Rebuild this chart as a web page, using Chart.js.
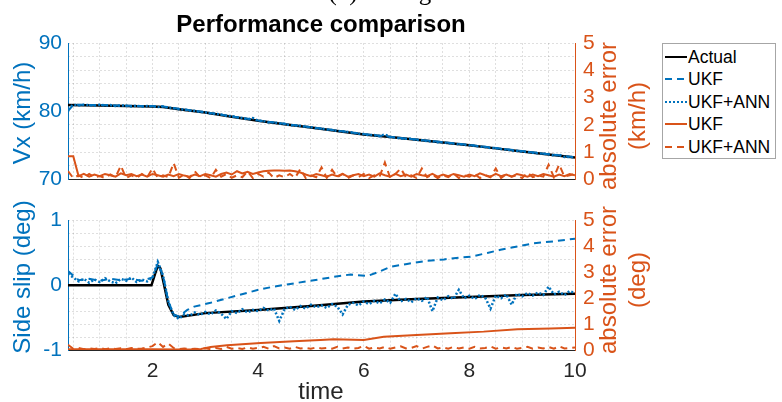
<!DOCTYPE html>
<html><head><meta charset="utf-8">
<script src="https://cdn.jsdelivr.net/npm/chart.js@4.4.1/dist/chart.umd.min.js"></script>
<style>
body{margin:0;background:#fff;}
#wrap{position:relative;width:782px;height:402px;overflow:hidden;font-family:"Liberation Sans",Arial,sans-serif;color:#000;}
canvas{position:absolute;left:0;}
.txt{position:absolute;white-space:nowrap;}
.rot{position:absolute;white-space:nowrap;transform:translate(-50%,-50%) rotate(-90deg);text-align:center;}
#legend{position:absolute;left:662px;top:43px;width:112px;height:114px;border:1px solid #a6a6a6;background:#fff;}
.lrow{position:absolute;left:0;height:22px;width:112px;}
.lrow svg{position:absolute;left:2px;top:0;}
.lrow span{position:absolute;left:25px;top:0;line-height:22px;font-size:17.5px;}
</style></head><body>
<div id="wrap">
<canvas id="cTop" width="782" height="200" style="top:0"></canvas>
<canvas id="cBot" width="782" height="202" style="top:200px"></canvas>
<div class="txt" style="left:383px;top:-21px;transform:translateX(-50%);font-family:'Liberation Serif','Times New Roman',serif;font-size:25px;line-height:25px;">(d) 10 deg.</div>
<div class="txt" style="left:321px;top:12px;transform:translateX(-50%);font-weight:bold;font-size:24px;line-height:24px;">Performance comparison</div>
<div class="rot" style="left:22px;top:113px;font-size:24px;color:#0072BD;">Vx (km/h)</div>
<div class="rot" style="left:22px;top:277px;font-size:24px;color:#0072BD;">Side slip (deg)</div>
<div class="rot" style="left:622px;top:116px;font-size:24px;line-height:29px;color:#D95319;">absolute error<br>(km/h)</div>
<div class="rot" style="left:622px;top:280px;font-size:24px;line-height:29px;color:#D95319;">absolute error<br>(deg)</div>
<div class="txt" style="left:321px;top:379px;transform:translateX(-50%);font-size:24px;line-height:24px;color:#262626;">time</div>
<div id="legend">
 <div class="lrow" style="top:2px"><svg width="22" height="22"><line x1="0" y1="11" x2="22" y2="11" stroke="#000" stroke-width="2"/></svg><span>Actual</span></div>
 <div class="lrow" style="top:24px"><svg width="22" height="22"><line x1="0" y1="11" x2="22" y2="11" stroke="#0072BD" stroke-width="2" stroke-dasharray="7 5"/></svg><span>UKF</span></div>
 <div class="lrow" style="top:47px"><svg width="22" height="22"><line x1="0" y1="11" x2="22" y2="11" stroke="#0072BD" stroke-width="2" stroke-dasharray="2 2"/></svg><span>UKF+ANN</span></div>
 <div class="lrow" style="top:69px"><svg width="22" height="22"><line x1="0" y1="11" x2="22" y2="11" stroke="#D95319" stroke-width="2"/></svg><span>UKF</span></div>
 <div class="lrow" style="top:92px"><svg width="22" height="22"><line x1="0" y1="11" x2="22" y2="11" stroke="#D95319" stroke-width="2" stroke-dasharray="7 5"/></svg><span>UKF+ANN</span></div>
</div>
</div>
<script>
// ---------- data ----------
const xMin = 0.4, xMax = 10;
const xGrid = [0.5,1,1.5,2,2.5,3,3.5,4,4.5,5,5.5,6,6.5,7,7.5,8,8.5,9,9.5,10];
const xTickLabels = [2,4,6,8,10];
const vxTicks = [70,80,90];
const slipTicks = [-1,0,1];
const errTickLabels = [0,1,2,3,4,5];

// shared time base for the noisy series
const t = [0.4,0.5,0.6,0.7,0.8,0.9,
 1.0,1.1,1.2,1.3,1.4,1.5,1.6,1.7,1.8,1.9,
 2.0,2.1,2.2,2.3,2.4,2.5,2.6,2.7,2.8,2.9,
 3.0,3.1,3.2,3.3,3.4,3.5,3.6,3.7,3.8,3.9,
 4.0,4.1,4.2,4.3,4.4,4.5,4.6,4.7,4.8,4.9,
 5.0,5.1,5.2,5.3,5.4,5.5,5.6,5.7,5.8,5.9,
 6.0,6.1,6.2,6.3,6.4,6.5,6.6,6.7,6.8,6.9,
 7.0,7.1,7.2,7.3,7.4,7.5,7.6,7.7,7.8,7.9,
 8.0,8.1,8.2,8.3,8.4,8.5,8.6,8.7,8.8,8.9,
 9.0,9.1,9.2,9.3,9.4,9.5,9.6,9.7,9.8,9.9,
 10.0];

// top: Vx
const tVxActual = [0.4,1.0,1.5,2.0,2.2,2.5,3,3.5,4,4.5,5,5.5,6,6.5,7,7.5,8,8.5,9,9.5,10];
const vxActual  = [80.9,80.85,80.75,80.7,80.6,80.3,79.8,79.2,78.6,78.1,77.6,77.1,76.6,76.2,75.8,75.4,75.0,74.55,74.1,73.65,73.2];
const tVxUkf = [0.4,0.5,1.0,1.5,2.0,2.2,2.5,3,3.5,4,4.5,5,5.5,6,6.5,7,7.5,8,8.5,9,9.5,10];
const vxUkf  = [80.0,80.95,80.9,80.8,80.75,80.7,80.35,79.85,79.25,78.65,78.15,77.65,77.15,76.65,76.25,75.85,75.45,75.05,74.6,74.15,73.7,73.25];
const vxUkfAnn = [80.3,80.95,80.85,80.95,80.9,80.8,
 80.95,80.85,80.9,80.75,80.85,80.8,80.7,80.8,80.65,80.75,
 80.7,80.6,80.7,80.5,80.45,80.3,80.25,80.1,80.05,79.9,
 79.85,79.65,79.6,79.5,79.3,79.3,79.1,79.0,78.8,79.0,
 78.6,78.55,78.35,78.4,78.2,78.15,77.95,77.9,77.85,77.7,
 77.65,77.5,77.45,77.3,77.25,77.1,77.05,76.95,76.85,76.7,
 76.65,76.5,76.5,76.35,76.6,76.2,76.15,76.0,75.95,75.95,
 75.8,75.75,75.6,75.6,75.45,75.45,75.3,75.25,75.15,75.1,
 75.0,74.95,74.8,74.75,74.6,74.6,74.45,74.4,74.25,74.2,
 74.1,74.05,73.9,73.85,73.75,73.7,73.5,73.6,73.3,73.3,
 73.2];
const vxErrUkf = [0.85,0.85,0.12,0.2,0.1,0.18,
 0.12,0.2,0.15,0.1,0.22,0.15,0.2,0.12,0.18,0.1,
 0.2,0.15,0.1,0.18,0.12,0.2,0.14,0.1,0.18,0.12,
 0.2,0.15,0.1,0.2,0.25,0.18,0.3,0.22,0.28,0.2,
 0.25,0.3,0.32,0.33,0.33,0.32,0.33,0.3,0.25,0.18,
 0.12,0.2,0.15,0.1,0.18,0.12,0.2,0.1,0.15,0.2,
 0.12,0.18,0.1,0.22,0.15,0.1,0.2,0.12,0.18,0.1,
 0.2,0.15,0.12,0.2,0.1,0.18,0.12,0.2,0.15,0.1,
 0.18,0.12,0.22,0.15,0.1,0.2,0.12,0.18,0.1,0.2,
 0.15,0.1,0.18,0.12,0.2,0.15,0.1,0.18,0.12,0.2,
 0.15];
const vxErrUkfAnn = [0.3,0.05,0.15,0.05,0.2,0.08,
 0.12,0.05,0.18,0.08,0.5,0.05,0.15,0.06,0.2,0.08,
 0.4,0.05,0.15,0.08,0.6,0.06,0.18,0.05,0.3,0.08,
 0.15,0.05,0.35,0.1,0.2,0.06,0.15,0.08,0.3,0.05,
 0.2,0.1,0.25,0.05,0.15,0.08,0.2,0.06,0.38,0.05,
 0.15,0.08,0.44,0.06,0.35,0.08,0.2,0.05,0.15,0.08,
 0.2,0.05,0.15,0.1,0.62,0.06,0.2,0.4,0.08,0.15,
 0.05,0.4,0.08,0.18,0.05,0.15,0.08,0.22,0.05,0.15,
 0.1,0.2,0.05,0.15,0.08,0.4,0.05,0.2,0.1,0.15,
 0.05,0.25,0.08,0.15,0.1,0.54,0.08,0.55,0.1,0.15,
 0.2];

// bottom: side slip
const tSlipActual = [0.4,1.98,2.05,2.1,2.15,2.2,2.3,2.4,2.5,2.6,3,4,5,6,7,8,9,10];
const slipActual  = [0,0,0.18,0.3,0.26,0.08,-0.3,-0.46,-0.49,-0.48,-0.43,-0.38,-0.32,-0.25,-0.21,-0.18,-0.15,-0.13];
const tSlipUkf = [0.4,0.6,0.8,1.0,1.2,1.4,1.6,1.8,2.0,2.1,2.2,2.3,2.4,2.5,2.66,2.79,3.1,3.41,3.73,4.05,4.3,4.68,5.12,5.43,5.75,6.07,6.26,6.51,6.82,7.2,7.52,7.83,8.02,8.34,8.59,8.91,9.22,9.6,10.0];
const slipUkf  = [0.22,0.08,0.1,0.07,0.1,0.08,0.1,0.07,0.12,0.33,0.15,-0.25,-0.45,-0.48,-0.38,-0.33,-0.27,-0.2,-0.13,-0.06,-0.02,0.03,0.086,0.13,0.167,0.143,0.2,0.286,0.33,0.38,0.40,0.43,0.44,0.5,0.55,0.60,0.65,0.68,0.72];
const slipUkfAnn = [0.18,0.12,0.06,0.1,0.04,0.09,
 0.05,0.11,0.06,0.03,0.1,0.07,0.12,0.05,0.09,0.06,
 0.12,0.36,0.15,-0.25,-0.46,-0.52,-0.45,-0.47,-0.42,-0.46,
 -0.41,-0.45,-0.39,-0.44,-0.52,-0.4,-0.43,-0.37,-0.42,-0.38,
 -0.4,-0.35,-0.39,-0.36,-0.55,-0.37,-0.33,-0.38,-0.32,-0.36,
 -0.3,-0.34,-0.31,-0.35,-0.29,-0.33,-0.45,-0.3,-0.27,-0.31,
 -0.25,-0.29,-0.24,-0.28,-0.22,-0.27,-0.13,-0.25,-0.21,-0.26,
 -0.2,-0.24,-0.18,-0.4,-0.19,-0.23,-0.17,-0.21,-0.07,-0.2,
 -0.16,-0.21,-0.15,-0.19,-0.36,-0.16,-0.2,-0.14,-0.3,-0.13,
 -0.17,-0.12,-0.16,-0.11,-0.15,-0.02,-0.14,-0.1,-0.15,-0.09,
 -0.12];
const tSlipErrUkf = [0.4,1,2,2.5,2.8,2.92,3.1,3.41,4.05,4.68,5.18,5.43,6.0,6.38,7.0,7.64,8.27,8.91,9.54,10.0];
const slipErrUkf  = [0.03,0.03,0.03,0.02,0.02,0.04,0.12,0.18,0.27,0.34,0.39,0.42,0.39,0.51,0.58,0.65,0.71,0.80,0.83,0.86];
const slipErrUkfAnn = [0.2,0.05,0.08,0.03,0.06,0.04,
 0.08,0.03,0.06,0.04,0.07,0.03,0.08,0.04,0.06,0.1,
 0.15,0.3,0.12,0.25,0.08,0.04,0.06,0.03,0.05,0.04,
 0.07,0.03,0.08,0.04,0.12,0.05,0.08,0.04,0.1,0.05,
 0.08,0.12,0.05,0.15,0.06,0.1,0.05,0.12,0.06,0.08,
 0.05,0.1,0.06,0.08,0.05,0.12,0.06,0.1,0.05,0.08,
 0.16,0.05,0.1,0.06,0.12,0.05,0.1,0.14,0.06,0.08,
 0.15,0.05,0.12,0.18,0.06,0.1,0.05,0.12,0.06,0.1,
 0.05,0.12,0.06,0.08,0.14,0.05,0.1,0.06,0.12,0.05,
 0.08,0.12,0.05,0.1,0.06,0.12,0.05,0.14,0.06,0.08,
 0.1];

// ---------- styling ----------
const blue = '#0072BD', orange = '#D95319', dark = '#262626';
const gridC = 'rgba(38,38,38,0.15)';
const FF = '"Liberation Sans", Arial, sans-serif';
const tickFont = {family: FF, size: 21};

function xy(ts, vs){ return ts.map((x,i)=>({x:x, y:vs[i]})); }
function ds(label, ts, vs, axis, color, dash, width, order){
  return {label, data: xy(ts, vs), yAxisID: axis, borderColor: color, borderWidth: width,
          borderDash: dash, pointRadius: 0, fill: false, tension: 0, order};
}
function xScale(showLabels, h){
  return {type:'linear', min:xMin, max:xMax,
    afterBuildTicks: s => { s.ticks = xGrid.map(v => ({value: v})); },
    ticks:{display:showLabels, autoSkip:false, maxRotation:0, color:dark, font:tickFont, padding:9,
           callback: v => xTickLabels.includes(v) ? String(v) : ''},
    grid:{color:gridC, drawTicks:false, lineWidth:1},
    border:{display:true, color:dark, width:1, dash:[2,2]},
    afterFit: s => { s.height = h; }
  };
}
function leftScale(min, max, ticksArr){
  return {position:'left', min, max,
    afterBuildTicks: s => { s.ticks = ticksArr.map(v => ({value: v})); },
    ticks:{color:blue, font:tickFont, padding:6, autoSkip:false},
    grid:{display:false, drawTicks:false},
    border:{display:true, color:blue, width:1},
    afterFit: s => { s.width = 68; }
  };
}
function rightScale(){
  return {position:'right', min:0, max:5,
    ticks:{stepSize:0.5, color:orange, font:tickFont, padding:8, autoSkip:false,
           callback: v => errTickLabels.includes(v) ? String(v) : ''},
    grid:{color:gridC, drawTicks:false, lineWidth:1},
    border:{display:true, color:orange, width:1, dash:[2,2]},
    afterFit: s => { s.width = 207; }
  };
}
const common = {responsive:false, animation:false, events:[],
  plugins:{legend:{display:false}, tooltip:{enabled:false}, title:{display:false}}};

new Chart(document.getElementById('cTop'), {
  type:'line',
  data:{datasets:[
    ds('Actual', tVxActual, vxActual, 'yL', '#000', [], 2.5, 5),
    ds('UKF', tVxUkf, vxUkf, 'yL', blue, [7,5], 2, 4),
    ds('UKF+ANN', t, vxUkfAnn, 'yL', blue, [2,2], 2.5, 3),
    ds('UKF err', t, vxErrUkf, 'yR', orange, [], 2, 2),
    ds('UKF+ANN err', t, vxErrUkfAnn, 'yR', orange, [7,5], 2, 1)
  ]},
  options:Object.assign({}, common, {
    layout:{padding:{top:43, left:0, right:0, bottom:0}},
    scales:{x:xScale(false, 10), yL:leftScale(70, 90, vxTicks), yR:rightScale()}
  })
});

new Chart(document.getElementById('cBot'), {
  type:'line',
  data:{datasets:[
    ds('Actual', tSlipActual, slipActual, 'yL', '#000', [], 2.5, 5),
    ds('UKF', tSlipUkf, slipUkf, 'yL', blue, [7,5], 2, 4),
    ds('UKF+ANN', t, slipUkfAnn, 'yL', blue, [2,2], 2.5, 3),
    ds('UKF err', tSlipErrUkf, slipErrUkf, 'yR', orange, [], 2, 2),
    ds('UKF+ANN err', t, slipErrUkfAnn, 'yR', orange, [7,5], 2, 1)
  ]},
  options:Object.assign({}, common, {
    layout:{padding:{top:10, left:0, right:0, bottom:0}},
    scales:{x:xScale(true, 52), yL:leftScale(-1, 1, slipTicks), yR:rightScale()}
  })
});
</script>
</body></html>
